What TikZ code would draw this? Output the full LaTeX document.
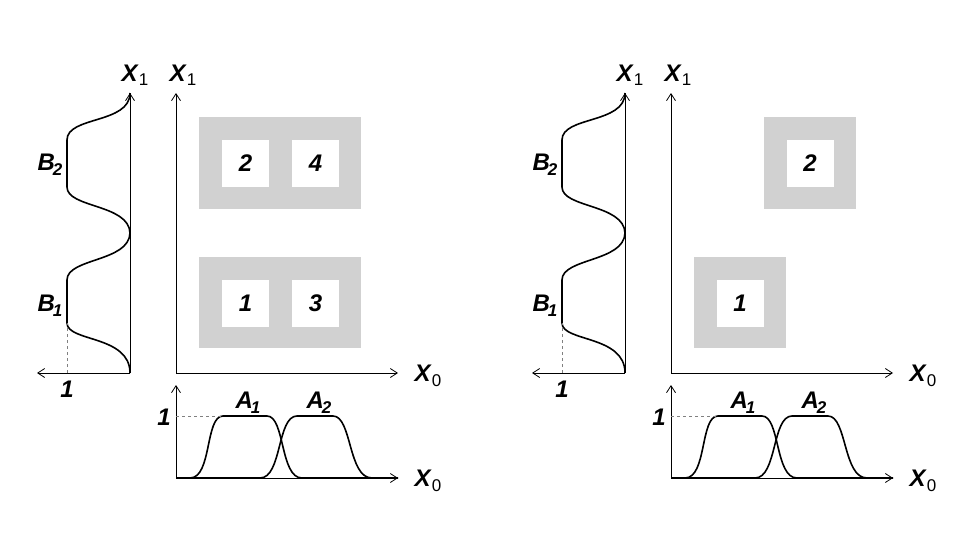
\documentclass[tikz,border=0pt]{standalone}
\usepackage{fontspec}
\setmainfont{Liberation Sans}
\usetikzlibrary{arrows.meta}
\newcommand\axlab[2]{\textbf{\textit{#1}}\raisebox{-0.35ex}{\fontsize{17}{17}\selectfont #2}}
\newcommand\setlab[2]{\textbf{\textit{#1}}\kern-2pt\raisebox{-0.4ex}{\fontsize{17}{17}\selectfont\bfseries\itshape #2}}
\tikzset{
  axis/.style={line width=0.8pt, -{Straight Barb[length=7pt,width=9pt]}},
  curve/.style={line width=1.6pt},
  grey/.style={fill=black!18, draw=none},
  hole/.style={fill=white, draw=none, minimum size=47pt, inner sep=0pt,
    font=\fontsize{24}{24}\selectfont\bfseries\itshape},
  lab/.style={font=\fontsize{24}{24}\selectfont, inner sep=1pt}
}
\begin{document}
\begin{tikzpicture}[x=1pt,y=-1pt]
\useasboundingbox (0,0) rectangle (979,551);

\foreach \s/\n in {0/a,495/b}{
  \begin{scope}[xshift=\s]
    % coordinates of the axes
    \coordinate (o\n) at (130,373);
    \coordinate (t\n) at (130,93);
    \coordinate (l\n) at (37,373);
    \coordinate (m\n) at (176,373);
    \coordinate (mt\n) at (176,93);
    \coordinate (mr\n) at (398,373);
    \coordinate (p\n) at (176,478);
    \coordinate (pt\n) at (176,385);
    \coordinate (pr\n) at (398,478);

    % axes
    \draw[axis] (o\n) -- (t\n);
    \draw[axis] (o\n) -- (l\n);
    \draw[axis] (m\n) -- (mt\n);
    \draw[axis] (m\n) -- (mr\n);
    \draw[axis] (p\n) -- (pt\n);
    \draw[axis] (p\n) -- (pr\n);

    % membership of X1
    \draw[curve] (o\n) .. controls (130,335) and (67,342) .. (67,323) -- (67,280)
      .. controls (67,258) and (129,262) .. (130,233)
      .. controls (129,204) and (67,208) .. (67,187) -- (67,140)
      .. controls (67,116) and (130,124) .. (t\n);
    \draw[dashed, gray] (67,373) -- (67,323);

    % membership of X0
    \draw[curve] (p\n) -- (190,478) .. controls (212,478) and (205,416) .. (223,416) -- (267,416)
      .. controls (285,416) and (280,478) .. (302,478) -- (398,478);
    \draw[curve] (p\n) -- (260,478) .. controls (282,478) and (277,416) .. (297,416) -- (333,416)
      .. controls (352,416) and (348,478) .. (372,478);
    \draw[dashed, gray] (pt\n |- 0,416) -- (223,416);

    % labels
    \node[lab] (x1l\n) at (135,75) {\axlab{X}{1}};
    \node[lab] (x1m\n) at (183,75) {\axlab{X}{1}};
    \node[lab] (x0m\n) at (428,376) {\axlab{X}{0}};
    \node[lab] (x0p\n) at (428,481) {\axlab{X}{0}};
    \node[lab] (b2\n) at (50,165) {\setlab{B}{2}};
    \node[lab] (b1\n) at (50,306) {\setlab{B}{1}};
    \node[lab] (one\n) at (67,389) {\textbf{\textit{1}}};
    \node[lab] (onep\n) at (164,417) {\textbf{\textit{1}}};
    \node[lab] (a1\n) at (248,403) {\setlab{A}{1}};
    \node[lab] (a2\n) at (319,403) {\setlab{A}{2}};
  \end{scope}
}

% left picture: four rules
\fill[grey] (199,117) rectangle (361,209);
\fill[grey] (199,257) rectangle (361,348);
\node[hole] (r2) at (245.5,163.5) {2};
\node[hole] (r4) at (315.5,163.5) {4};
\node[hole] (r1) at (245.5,303) {1};
\node[hole] (r3) at (315.5,303) {3};

% right picture: two rules
\fill[grey] (764,117) rectangle (856,209);
\fill[grey] (694,257) rectangle (786,348);
\node[hole] (s2) at (810,163.5) {2};
\node[hole] (s1) at (740,303) {1};
\end{tikzpicture}
\end{document}
